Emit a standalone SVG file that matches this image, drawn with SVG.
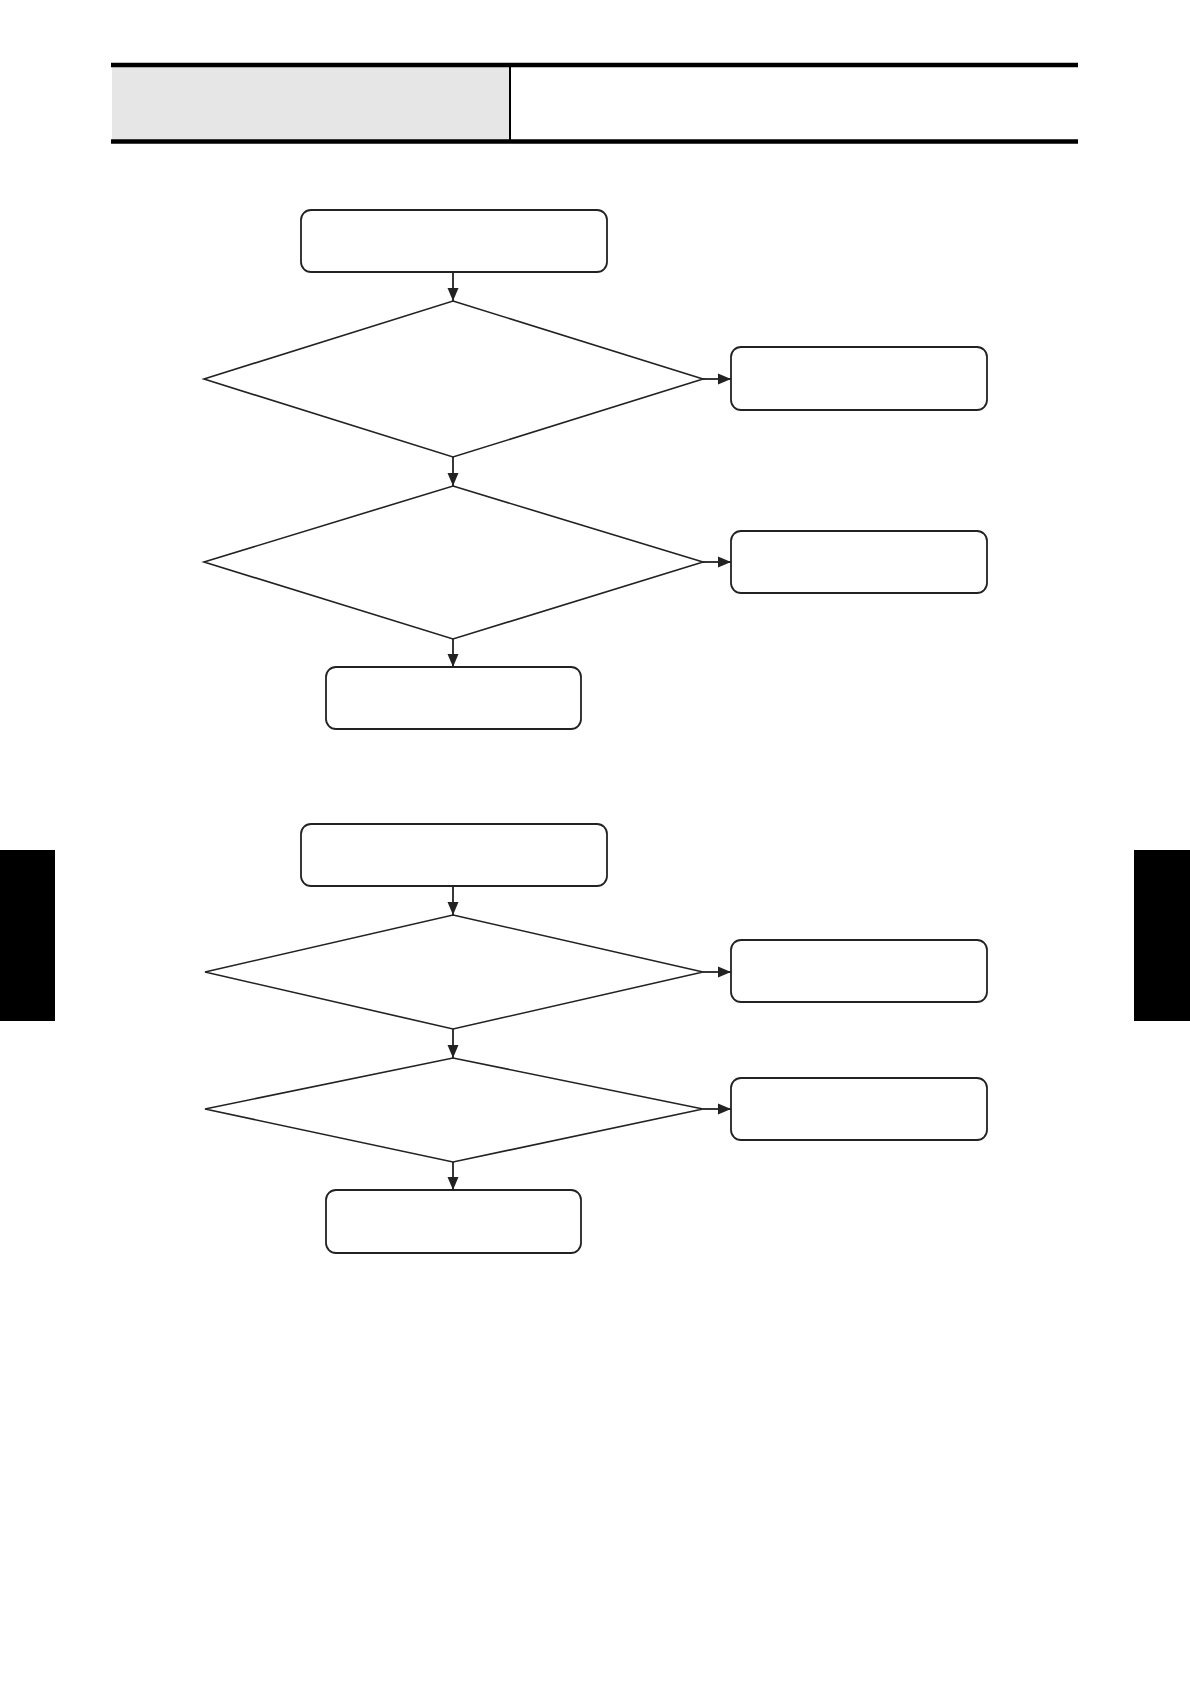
<svg xmlns="http://www.w3.org/2000/svg" width="1190" height="1684" viewBox="0 0 1190 1684">
<style>
.box{fill:#fff;stroke:#222;stroke-width:1.8}
.dia{fill:#fff;stroke:#222;stroke-width:1.6}
.conn{fill:none;stroke:#222;stroke-width:1.8}
.rule{stroke:#000;stroke-width:4.5}
.tab{fill:#000}
</style>
<defs>
<marker id="arr" markerUnits="userSpaceOnUse" markerWidth="13" markerHeight="12" viewBox="0 0 13 12" refX="13" refY="6" orient="auto">
<path d="M0,0.5 L13,6 L0,11.5 Z" fill="#222"/>
</marker>
</defs>
<rect width="1190" height="1684" fill="#fff"/>
<g id="header">
<rect x="112" y="67" width="397" height="73" fill="#e6e6e6"/>
<line class="rule" x1="111" y1="65" x2="1078" y2="65"/>
<line class="rule" x1="111" y1="141.5" x2="1078" y2="141.5"/>
<line x1="510" y1="67" x2="510" y2="140" stroke="#000" stroke-width="2"/>
</g>
<g id="tabs">
<rect class="tab" x="0" y="850" width="55" height="171"/>
<rect class="tab" x="1134" y="850" width="56" height="171"/>
</g>
<g id="connectors">
<line class="conn" x1="453" y1="272" x2="453" y2="301" marker-end="url(#arr)"/>
<line class="conn" x1="703" y1="379" x2="731" y2="379" marker-end="url(#arr)"/>
<line class="conn" x1="453" y1="457" x2="453" y2="486" marker-end="url(#arr)"/>
<line class="conn" x1="703" y1="562" x2="731" y2="562" marker-end="url(#arr)"/>
<line class="conn" x1="453" y1="639" x2="453" y2="667" marker-end="url(#arr)"/>
<line class="conn" x1="453" y1="886" x2="453" y2="915" marker-end="url(#arr)"/>
<line class="conn" x1="703" y1="972" x2="731" y2="972" marker-end="url(#arr)"/>
<line class="conn" x1="453" y1="1029" x2="453" y2="1058" marker-end="url(#arr)"/>
<line class="conn" x1="703" y1="1109" x2="731" y2="1109" marker-end="url(#arr)"/>
<line class="conn" x1="453" y1="1162" x2="453" y2="1190" marker-end="url(#arr)"/>
</g>
<g id="boxA"><rect class="box" x="301" y="210" width="306" height="62" rx="10"/></g>
<g id="dec1"><polygon class="dia" points="453,301 703,379 453,457 204,379"/></g>
<g id="boxR1"><rect class="box" x="731" y="347" width="256" height="63" rx="10"/></g>
<g id="dec2"><polygon class="dia" points="453,486 703,562 453,639 204,562"/></g>
<g id="boxR2"><rect class="box" x="731" y="531" width="256" height="62" rx="10"/></g>
<g id="boxB"><rect class="box" x="326" y="667" width="255" height="62" rx="10"/></g>
<g id="boxC"><rect class="box" x="301" y="824" width="306" height="62" rx="10"/></g>
<g id="dec3"><polygon class="dia" points="453,915 703,972 453,1029 205,972"/></g>
<g id="boxR3"><rect class="box" x="731" y="940" width="256" height="62" rx="10"/></g>
<g id="dec4"><polygon class="dia" points="453,1058 703,1109 453,1162 205,1109"/></g>
<g id="boxR4"><rect class="box" x="731" y="1078" width="256" height="62" rx="10"/></g>
<g id="boxD"><rect class="box" x="326" y="1190" width="255" height="63" rx="10"/></g>
</svg>
